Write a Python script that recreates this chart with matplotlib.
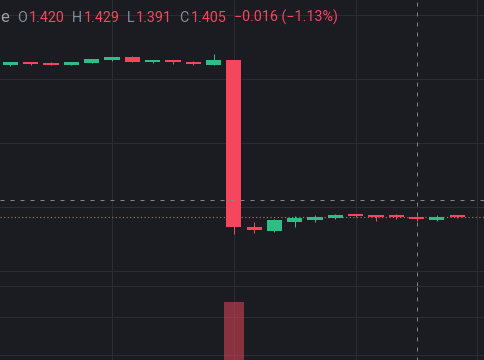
import numpy as np
import matplotlib
matplotlib.use("Agg")
import matplotlib.pyplot as plt

# OHLC of the visible bars (left to right)
opens  = [2.612, 2.631, 2.625, 2.612, 2.627, 2.648, 2.672, 2.633, 2.643, 2.633, 2.612,
          2.648, 1.344, 1.315, 1.385, 1.401, 1.416, 1.4375, 1.430, 1.430, 1.420, 1.401, 1.422]
highs  = [2.633, 2.631, 2.635, 2.635, 2.656, 2.672, 2.682, 2.643, 2.643, 2.643, 2.695,
          2.648, 1.380, 1.404, 1.430, 1.4375, 1.445, 1.445, 1.4375, 1.445, 1.429, 1.4375, 1.430]
lows   = [2.599, 2.612, 2.609, 2.612, 2.627, 2.641, 2.635, 2.627, 2.617, 2.609, 2.612,
          1.287, 1.295, 1.307, 1.344, 1.385, 1.409, 1.420, 1.388, 1.406, 1.391, 1.393, 1.414]
closes = [2.633, 2.620, 2.609, 2.635, 2.656, 2.672, 2.635, 2.643, 2.633, 2.617, 2.648,
          1.346, 1.323, 1.396, 1.416, 1.422, 1.4375, 1.427, 1.420, 1.421, 1.405, 1.422, 1.419]
volumes = [4, 2, 2, 3, 5, 4, 5, 2, 2, 3, 8, 96, 14, 12, 7, 5, 4, 3, 4, 3, 4, 3, 2]

# hovered bar / crosshair
cross_idx = 20
cross_price = 1.557
legend_vals = ["1.420", "1.429", "1.391", "1.405"]
legend_change = "\u22120.016 (\u22121.13%)"

# colours
bg = "#1b1c21"
gridc = "#2a2d33"
up = "#2ebd85"
down = "#f6465d"
textc = "#848e9c"
crossc = "#80848c"

W, H = 485, 360
fig = plt.figure(figsize=(W / 100, H / 100), dpi=100, facecolor=bg)

# price pane: top 286 px, volume pane below (runs off the bottom of the picture)
ax = fig.add_axes([0, 1 - 286 / H, 1, 286 / H], facecolor=bg)
axv = fig.add_axes([0, 1 - 393 / H, 1, 107 / H], facecolor=bg, zorder=-1)

n = len(opens)
x = np.arange(n)
o = np.array(opens); c = np.array(closes)
hi = np.array(highs); lo = np.array(lows)
rising = c >= o
cols = np.where(rising, up, down)

px = 0.72  # one pixel in points
for a in (ax, axv):
    a.set_xlim(-0.517, 23.37)
    a.set_xticks([5, 11, 17, 23])
    a.tick_params(length=0, labelleft=False, labelbottom=False)
    a.grid(True, color=gridc, lw=px)
    a.set_axisbelow(True)
    for s in a.spines.values():
        s.set_visible(False)

ax.set_ylim(0.8828, 3.1172)
ax.set_yticks([1.0, 1.5, 2.0, 2.5, 3.0])

axv.set_ylim(0, 112.6)
axv.set_yticks([40, 80])
axv.spines["top"].set_visible(True)
axv.spines["top"].set_color(gridc)
axv.spines["top"].set_linewidth(px)

# last price line
ax.axhline(closes[-1], color=down, lw=px * 1.2, ls=(0, (1, 2)), zorder=1)

# candles (min body ~2px so flat bars stay visible)
ax.vlines(x, lo, hi, colors=cols, lw=px, zorder=2)
body = np.maximum(np.abs(c - o), 1.9 / 128)
ax.bar(x, body, bottom=np.minimum(o, c), width=0.75, color=cols, lw=0, zorder=3)

# volume
axv.bar(x, volumes, width=0.97, color=cols, alpha=0.5, lw=0)

# crosshair
for a in (ax, axv):
    a.axvline(cross_idx, color=crossc, lw=px, ls=(0, (4, 6)), zorder=5)
ax.axhline(cross_price, color=crossc, lw=px, ls=(0, (4, 6)), zorder=5)

# legend line at the top
def put(xp, s, color, size=10.3, ha="left"):
    fig.text(xp / W, 1 - 22 / H, s, color=color, fontsize=size, ha=ha, va="baseline",
             family=["Roboto", "DejaVu Sans"])

put(0, "e", "#9a9ea6", size=12)
put(17, "O", textc); put(28.3, legend_vals[0], down)
put(71.7, "H", textc); put(83.3, legend_vals[1], down)
put(126.7, "L", textc); put(136, legend_vals[2], down)
put(179, "C", textc); put(191, legend_vals[3], down)
put(234.3, legend_change, down)

fig.savefig("out.png", dpi=100, facecolor=bg)
